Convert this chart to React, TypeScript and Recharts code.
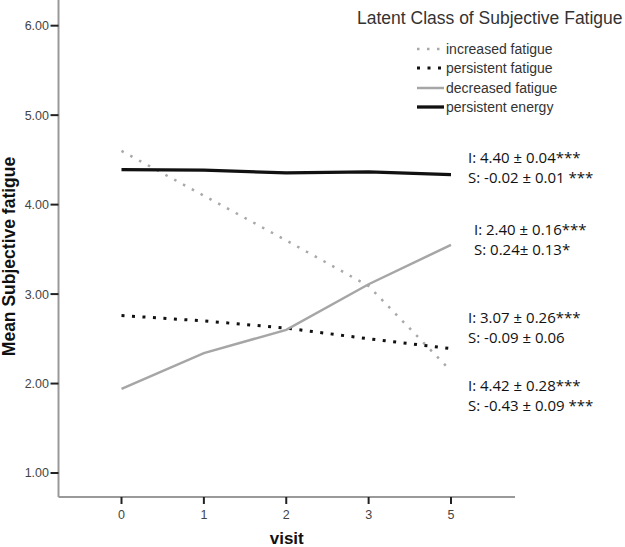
import React from 'react';
import { LineChart, Line, XAxis, YAxis, Legend, Label, Customized } from 'recharts';

const visits = ['0', '1', '2', '3', '5'];
const increasedFatigue = [4.6, 4.1, 3.6, 3.09, 2.14];
const persistentFatigue = [2.76, 2.7, 2.62, 2.5, 2.39];
const decreasedFatigue = [1.94, 2.34, 2.6, 3.11, 3.55];
const persistentEnergy = [4.39, 4.385, 4.355, 4.365, 4.335];
const yTicks = [1, 2, 3, 4, 5, 6];

const legendTitle = 'Latent Class of Subjective Fatigue';

const series = [
  { key: 'increased', name: 'increased fatigue', color: '#a8a8a8', width: 2.5, dash: '2.5 7.5' },
  { key: 'persistentF', name: 'persistent fatigue', color: '#111111', width: 3, dash: '3 7.5' },
  { key: 'decreased', name: 'decreased fatigue', color: '#a6a6a6', width: 2.5, dash: undefined },
  { key: 'persistentE', name: 'persistent energy', color: '#111111', width: 3.3, dash: undefined },
];

const annotations = [
  { text: 'I: 4.40 \u00b1 0.04***', x: 468, y: 157 },
  { text: 'S: -0.02 \u00b1 0.01 ***', x: 468, y: 177 },
  { text: 'I: 2.40 \u00b1 0.16***', x: 474, y: 229 },
  { text: 'S: 0.24\u00b1 0.13*', x: 474, y: 249 },
  { text: 'I: 3.07 \u00b1 0.26***', x: 468, y: 317 },
  { text: 'S: -0.09 \u00b1 0.06', x: 468, y: 337 },
  { text: 'I: 4.42 \u00b1 0.28***', x: 468, y: 385 },
  { text: 'S: -0.43 \u00b1 0.09 ***', x: 468, y: 405 },
];

const data = visits.map((v, i) => ({
  visit: v,
  increased: increasedFatigue[i],
  persistentF: persistentFatigue[i],
  decreased: decreasedFatigue[i],
  persistentE: persistentEnergy[i],
}));

const FONT = '"Liberation Sans", Arial, sans-serif';

const LegendContent = () => (
  <div style={{ fontFamily: FONT, color: '#333' }}>
    <div style={{ fontSize: 17.5, lineHeight: '20px', marginLeft: 1, whiteSpace: 'nowrap' }}>{legendTitle}</div>
    <div style={{ marginTop: 11 }}>
      {series.map((s) => (
        <div key={s.key} style={{ display: 'flex', alignItems: 'center', height: 19.5, marginLeft: 60 }}>
          <svg width={29} height={10} style={{ display: 'block' }}>
            <line x1={1} y1={5} x2={28} y2={5} stroke={s.color} strokeWidth={s.width} strokeDasharray={s.dash} />
          </svg>
          <span style={{ fontSize: 14, marginLeft: 1, whiteSpace: 'nowrap' }}>{s.name}</span>
        </div>
      ))}
    </div>
  </div>
);

const Annotations = () => (
  <g>
    {annotations.map((a, i) => (
      <text
        key={i}
        x={a.x}
        y={a.y}
        dominantBaseline="central"
        fontFamily='"Open Sans", sans-serif'
        fontSize={15}
        fill="#111"
      >
        {a.text}
      </text>
    ))}
  </g>
);

const YLabel = (props: any) => {
  const vb = props.viewBox || {};
  const cy = vb.y + vb.height / 2 + 8;
  return (
    <text
      x={15}
      y={cy}
      transform={`rotate(-90 15 ${cy})`}
      textAnchor="middle"
      fontFamily={FONT}
      fontWeight="bold"
      fontSize={17.5}
      fill="#111"
    >
      Mean Subjective fatigue
    </text>
  );
};

export default function App() {
  return (
    <div style={{ position: 'absolute', left: 0, top: 0, background: '#fff' }}>
      <LineChart width={625} height={547} data={data} margin={{ top: 0, right: 110, bottom: 0, left: 0 }}>
        <XAxis
          dataKey="visit"
          scale="point"
          padding={{ left: 63, right: 64 }}
          height={50}
          tickSize={7}
          tickMargin={6}
          axisLine={{ stroke: '#999', strokeWidth: 2 }}
          tickLine={{ stroke: '#222', strokeWidth: 2 }}
          tick={{ fill: '#444', fontSize: 12.5, fontFamily: FONT }}
        >
          <Label
            value="visit"
            position="insideBottom"
            offset={3}
            style={{ fontFamily: FONT, fontWeight: 'bold', fontSize: 17, fill: '#111' }}
          />
        </XAxis>
        <YAxis
          width={58.5}
          domain={[0.732, 6.287]}
          ticks={yTicks}
          allowDataOverflow
          type="number"
          tickFormatter={(v: number) => v.toFixed(2)}
          tickSize={8}
          tickMargin={1.5}
          axisLine={{ stroke: '#999', strokeWidth: 2 }}
          tickLine={{ stroke: '#222', strokeWidth: 2 }}
          tick={{ fill: '#444', fontSize: 12.5, fontFamily: FONT }}
        >
          <Label content={YLabel} />
        </YAxis>
        <Legend
          layout="vertical"
          align="center"
          verticalAlign="middle"
          wrapperStyle={{ left: 356, top: 8, width: 269 }}
          content={LegendContent}
        />
        {series.map((s) => (
          <Line
            key={s.key}
            dataKey={s.key}
            name={s.name}
            stroke={s.color}
            strokeWidth={s.width}
            strokeDasharray={s.dash}
            dot={false}
            activeDot={false}
            type="linear"
            isAnimationActive={false}
          />
        ))}
        <Customized component={Annotations} />
      </LineChart>
    </div>
  );
}
